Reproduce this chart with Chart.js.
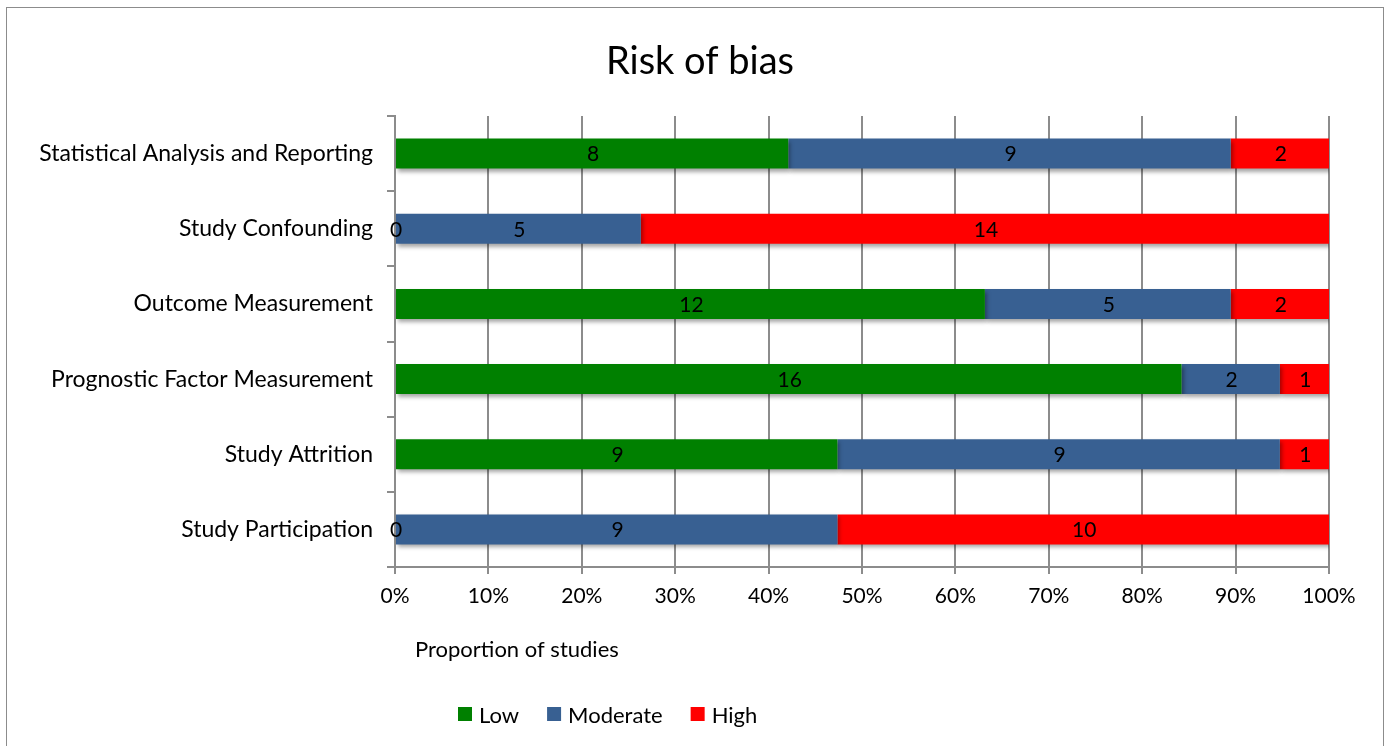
<!DOCTYPE html>
<html>
<head>
<meta charset="utf-8">
<script src="https://cdn.jsdelivr.net/npm/chart.js@4.4.1/dist/chart.umd.min.js"></script>
<style>
  html, body { margin: 0; padding: 0; background: #fff; }
  #wrap { position: relative; width: 1385px; height: 746px; overflow: hidden; }
  #frame { position: absolute; left: 6px; top: 7px; width: 1378px; height: 780px; border: 1px solid #8c8c8c; box-sizing: border-box; }
  canvas { position: absolute; left: 0; top: 0; }
</style>
</head>
<body>
<div id="wrap">
  <div id="frame"></div>
  <canvas id="riskOfBias" width="1385" height="746"></canvas>
</div>
<script>
const categories = [
  "Statistical Analysis and Reporting",
  "Study Confounding",
  "Outcome Measurement",
  "Prognostic Factor Measurement",
  "Study Attrition",
  "Study Participation"
];
const lowCounts = [8, 0, 12, 16, 9, 0];
const moderateCounts = [9, 5, 5, 2, 9, 9];
const highCounts = [2, 14, 2, 1, 1, 10];
const xTickLabels = ["0%", "10%", "20%", "30%", "40%", "50%", "60%", "70%", "80%", "90%", "100%"];

const FONT = "Lato, 'Open Sans', sans-serif";
const totals = categories.map((_, i) => lowCounts[i] + moderateCounts[i] + highCounts[i]);
const toPct = (arr) => arr.map((v, i) => (v / totals[i]) * 100);

const series = [
  { label: "Low", counts: lowCounts, color: "#008000" },
  { label: "Moderate", counts: moderateCounts, color: "#386092" },
  { label: "High", counts: highCounts, color: "#ff0000" }
];

// draws shadows, count labels, title, axis title and legend
const extras = {
  id: "extras",
  beforeDatasetsDraw(chart) {
    const ctx = chart.ctx;
    ctx.save();
    ctx.shadowColor = "rgba(0,0,0,0.35)";
    ctx.shadowBlur = 4;
    ctx.shadowOffsetX = 2;
    ctx.shadowOffsetY = 3;
  },
  afterDatasetsDraw(chart) {
    const ctx = chart.ctx;
    ctx.restore();
    ctx.save();
    ctx.font = "21px " + FONT;
    ctx.fillStyle = "#000";
    ctx.textAlign = "center";
    ctx.textBaseline = "middle";
    chart.data.datasets.forEach((ds, di) => {
      const meta = chart.getDatasetMeta(di);
      meta.data.forEach((bar, i) => {
        const cx = (bar.x + bar.base) / 2;
        ctx.fillText(String(ds.counts[i]), cx + 1, bar.y + 1);
      });
    });
    ctx.restore();
  },
  afterDraw(chart) {
    const ctx = chart.ctx;
    ctx.save();
    ctx.fillStyle = "#000";
    ctx.textBaseline = "middle";
    ctx.textAlign = "center";
    ctx.font = "38px " + FONT;
    ctx.fillText("Risk of bias", 700, 62);

    ctx.textAlign = "left";
    ctx.font = "22px " + FONT;
    ctx.fillText("Proportion of studies", 415, 650);

    // legend
    let x = 458;
    const y = 716;
    ctx.font = "22px " + FONT;
    chart.data.datasets.forEach((ds) => {
      ctx.fillStyle = ds.backgroundColor;
      ctx.fillRect(x, y - 9, 14, 14);
      ctx.fillStyle = "#000";
      ctx.fillText(ds.label, x + 21, y);
      x += 21 + ctx.measureText(ds.label).width + 28;
    });
    ctx.restore();
  }
};

new Chart(document.getElementById("riskOfBias"), {
  type: "bar",
  data: {
    labels: categories,
    datasets: series.map((s) => ({
      label: s.label,
      data: toPct(s.counts),
      counts: s.counts,
      backgroundColor: s.color,
      borderWidth: 0,
      barPercentage: 0.4,
      categoryPercentage: 1.0
    }))
  },
  options: {
    indexAxis: "y",
    responsive: false,
    animation: false,
    devicePixelRatio: 1,
    layout: { padding: { left: 0, right: 56, top: 116, bottom: 119 } },
    plugins: {
      legend: { display: false },
      title: { display: false },
      tooltip: { enabled: false }
    },
    scales: {
      x: {
        stacked: true,
        min: 0,
        max: 100,
        afterFit: (scale) => { scale.height = 60; },
        afterBuildTicks: (scale) => {
          scale.ticks = xTickLabels.map((_, i) => ({ value: i * 10 }));
        },
        ticks: {
          callback: (v, i) => xTickLabels[i],
          color: "#000",
          font: { size: 21, family: FONT },
          padding: 10,
          maxRotation: 0
        },
        grid: { color: "#8c8c8c", lineWidth: 2, tickLength: 7, drawOnChartArea: true },
        border: { color: "#8c8c8c", width: 2 }
      },
      y: {
        stacked: true,
        afterFit: (scale) => { scale.width = 395; },
        ticks: {
          color: "#000",
          font: { size: 23, family: FONT },
          padding: 14
        },
        grid: { offset: true, drawOnChartArea: false, color: "#8c8c8c", lineWidth: 2, tickLength: 8 },
        border: { color: "#8c8c8c", width: 2 }
      }
    }
  },
  plugins: [extras]
});
</script>
</body>
</html>
